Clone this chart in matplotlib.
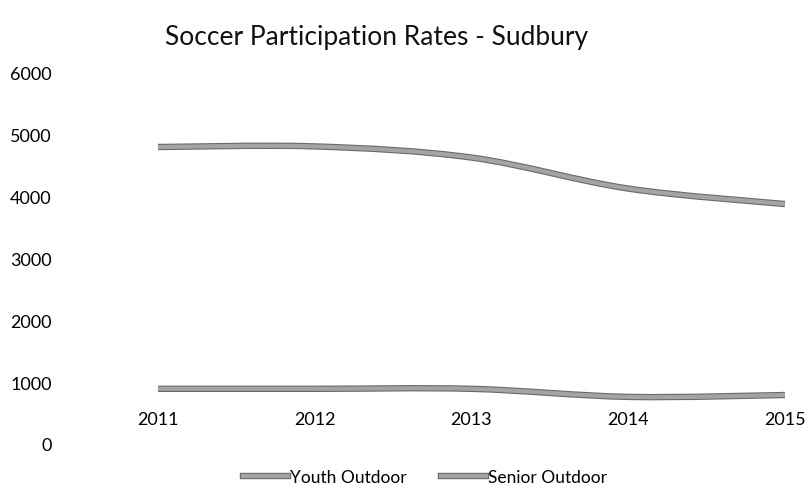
import matplotlib.pyplot as plt
import matplotlib.patheffects as pe
from matplotlib.path import Path
from matplotlib.patches import PathPatch
from matplotlib.lines import Line2D

years = ["2011", "2012", "2013", "2014", "2015"]
youth_outdoor = [4790, 4800, 4620, 4120, 3870]
senior_outdoor = [890, 890, 890, 760, 790]
y_ticks = [0, 1000, 2000, 3000, 4000, 5000, 6000]

plt.rcParams["font.family"] = ["Lato", "DejaVu Sans"]

line_color = "#a4a4a4"
edge_color = "#6a6a6a"
line_fx = [pe.Stroke(linewidth=4.6, foreground=edge_color), pe.Normal()]


def smooth_path(xs, ys):
    # Excel-style smoothed line: Catmull-Rom turned into cubic Bezier segments
    verts = [(xs[0], ys[0])]
    codes = [Path.MOVETO]
    n = len(xs)
    for i in range(n - 1):
        x0, y0 = (xs[i - 1], ys[i - 1]) if i > 0 else (xs[i], ys[i])
        x1, y1 = xs[i], ys[i]
        x2, y2 = xs[i + 1], ys[i + 1]
        x3, y3 = (xs[i + 2], ys[i + 2]) if i + 2 < n else (x2, y2)
        c1 = (x1 + (x2 - x0) / 6, y1 + (y2 - y0) / 6)
        c2 = (x2 - (x3 - x1) / 6, y2 - (y3 - y1) / 6)
        verts += [c1, c2, (x2, y2)]
        codes += [Path.CURVE4] * 3
    return Path(verts, codes)


fig = plt.figure(figsize=(8.09, 5.02), dpi=100)
ax = fig.add_axes([60 / 809, 57 / 502, 740 / 809, 372 / 502])

x_pos = list(range(len(years)))
for series in (youth_outdoor, senior_outdoor):
    patch = PathPatch(smooth_path(x_pos, series), facecolor="none",
                      edgecolor=line_color, linewidth=3, capstyle="butt")
    patch.set_path_effects(line_fx)
    ax.add_patch(patch)

ax.set_xlim(-0.625, 4.096)
ax.set_ylim(0, 6000)
ax.set_yticks(y_ticks)
ax.set_yticklabels([str(v) for v in y_ticks], fontsize=13)
ax.set_xticks(x_pos)
ax.set_xticklabels(years, fontsize=13)
ax.tick_params(axis="both", length=0)
ax.tick_params(axis="x", pad=-24)
ax.tick_params(axis="y", pad=6)
for side in ax.spines.values():
    side.set_visible(False)

fig.text(377 / 809, 1 - 38 / 502, "Soccer Participation Rates - Sudbury",
         ha="center", va="center", fontsize=19, color="#111111")

handles = [
    Line2D([], [], color=line_color, lw=3, path_effects=line_fx),
    Line2D([], [], color=line_color, lw=3, path_effects=line_fx),
]
fig.legend(handles, ["Youth Outdoor", "Senior Outdoor"], loc="center",
           bbox_to_anchor=(425 / 809, 1 - 478 / 502), ncol=2, frameon=False,
           fontsize=12.5, handlelength=2.6, handletextpad=0.1, columnspacing=2.0)

plt.savefig("out.png", dpi=100)
